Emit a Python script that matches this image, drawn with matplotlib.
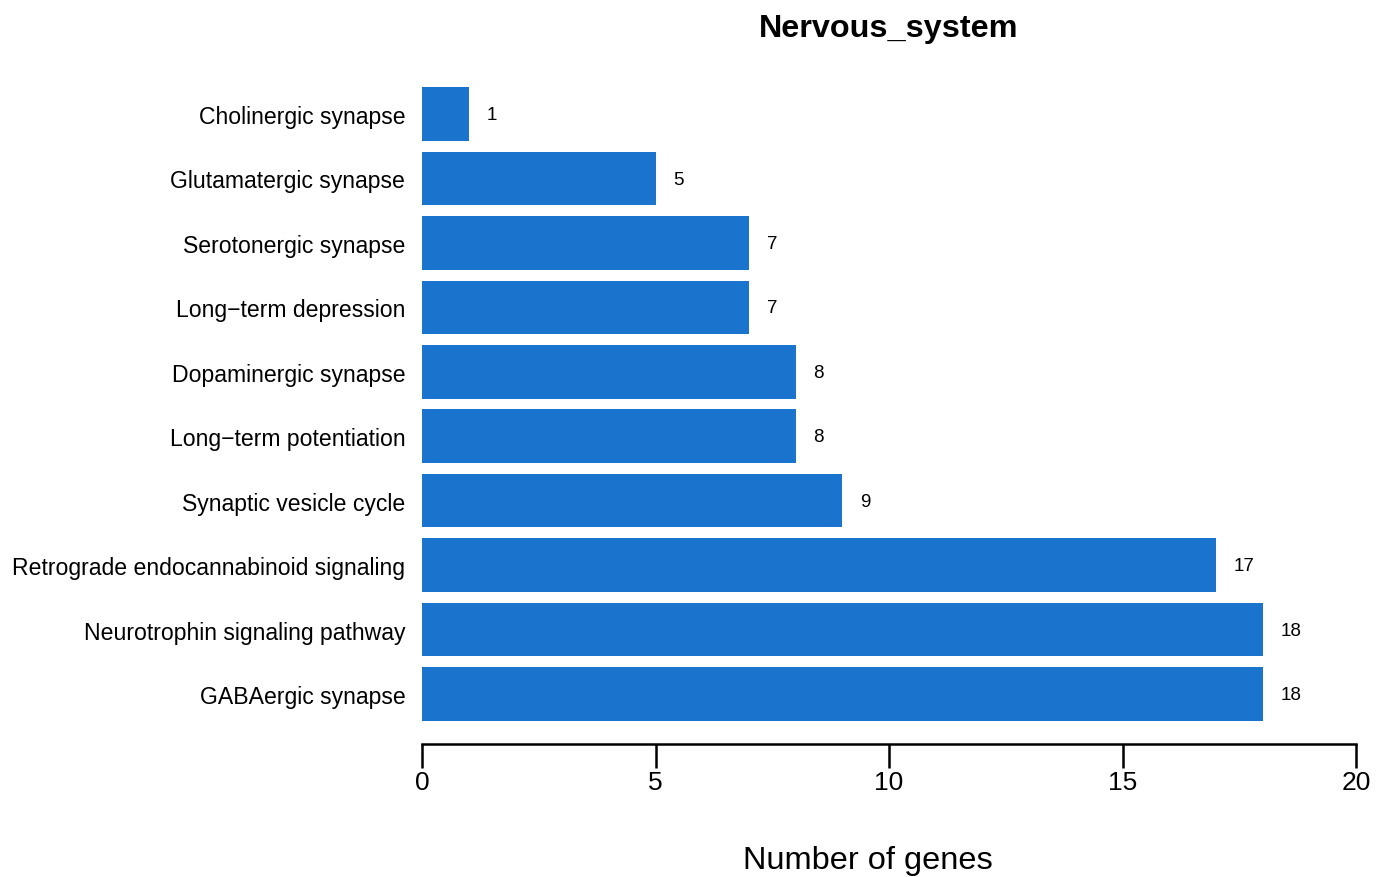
import numpy as np
import matplotlib
matplotlib.use("Agg")
import matplotlib.pyplot as plt

plt.rcParams['font.family'] = ['Liberation Sans', 'DejaVu Sans']

pathways = ["GABAergic synapse", "Neurotrophin signaling pathway",
            "Retrograde endocannabinoid signaling", "Synaptic vesicle cycle",
            "Long\u2212term potentiation", "Dopaminergic synapse",
            "Long\u2212term depression", "Serotonergic synapse",
            "Glutamatergic synapse", "Cholinergic synapse"]
ngenes = [18, 18, 17, 9, 8, 8, 7, 7, 5, 1]

W, H = 1390, 878
fig = plt.figure(figsize=(W / 100, H / 100), dpi=100)

# axes placed in pixel terms: x 0..20 spans 422..1356, rows spaced ~64.4 px
left, right = 422, 1356
top, bottom = 70, 745
ax = fig.add_axes([left / W, 1 - bottom / H, (right - left) / W, (bottom - top) / H])

pos = np.arange(len(pathways))
step = 64.4
ax.barh(pos, ngenes, height=0.83, color="#1A74CD", edgecolor="none")
ax.set_xlim(0, 20)
ax.set_ylim(-(bottom - 695) / step, 9 + (115 - top) / step)

for p, v in zip(pos, ngenes):
    ax.text(v + 0.38, p - 0.01, str(v), va="center", ha="left", fontsize=13.5)

ax.set_yticks(pos)
ax.set_yticklabels(pathways, fontsize=16.6)
ax.tick_params(axis="y", length=0, pad=12)
ax.set_xticks([0, 5, 10, 15, 20])
ax.tick_params(axis="x", length=17, width=1.8, labelsize=19, pad=2)

for s in ["left", "top", "right"]:
    ax.spines[s].set_visible(False)
ax.spines["bottom"].set_linewidth(1.8)
ax.spines["bottom"].set_bounds(0, 20)

fig.text(889 / W, 1 - 29 / H, "Nervous_system", ha="center", va="center",
         fontsize=23.3, fontweight="bold")
fig.text(868 / W, 1 - 861 / H, "Number of genes", ha="center", va="center",
         fontsize=23.4)

fig.savefig("out.png", dpi=100)
